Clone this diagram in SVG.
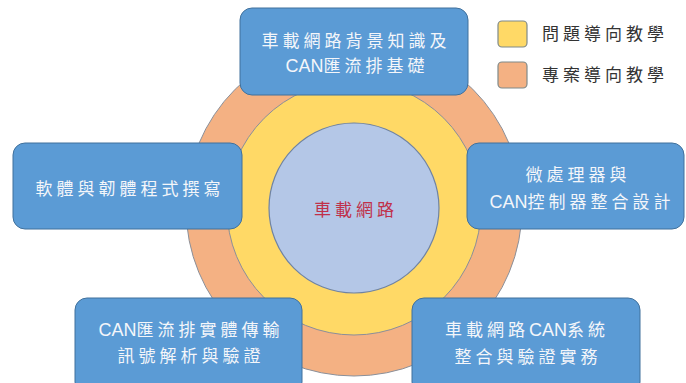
<svg xmlns="http://www.w3.org/2000/svg" width="686" height="383" viewBox="0 0 686 383">
<style>
.box{fill:#5B9BD5;stroke:#41719C;stroke-width:1}
.bt{fill:#F4F6FA;font-family:"Noto Sans CJK TC","Noto Sans CJK SC",sans-serif;font-size:17px;letter-spacing:4px;text-anchor:middle}
.lat{font-family:"Liberation Sans Narrow","Liberation Sans",sans-serif;font-size:18px;letter-spacing:0}
.lg{fill:#333;font-family:"Noto Sans CJK TC","Noto Sans CJK SC",sans-serif;font-size:17px;letter-spacing:4px}
</style>
<rect width="686" height="383" fill="#ffffff"/>
<g id="rings">
<circle cx="354" cy="208" r="168" fill="#F4B183" stroke="#8A8F99" stroke-width="1"/>
<circle cx="354" cy="208" r="127" fill="#FFD966" stroke="#8A8F99" stroke-width="1"/>
</g>
<g id="center">
<circle cx="354" cy="208" r="85" fill="#B4C7E7" stroke="#6F83A3" stroke-width="1.2"/>
<text x="356" y="216" style="fill:#C0304A;font-family:'Noto Sans CJK TC','Noto Sans CJK SC',sans-serif;font-size:17px;letter-spacing:4px;text-anchor:middle">車載網路</text>
</g>
<g id="legend">
<rect x="498" y="21" width="29" height="26" rx="4" fill="#FFD966" stroke="#7F8A8A" stroke-width="1.2"/>
<text class="lg" x="542" y="40">問題導向教學</text>
<rect x="498" y="62" width="29" height="26" rx="4" fill="#F4B183" stroke="#7F8A8A" stroke-width="1.2"/>
<text class="lg" x="542" y="81">專案導向教學</text>
</g>
<g id="connectors"></g>
<g id="top">
<rect class="box" x="240" y="8" width="228" height="87" rx="12"/>
<text class="bt" x="356" y="47">車載網路背景知識及</text>
<text class="bt" x="357" y="72"><tspan class="lat">CAN</tspan>匯流排基礎</text>
</g>
<g id="left">
<rect class="box" x="13" y="143" width="229" height="86" rx="12"/>
<text class="bt" x="130" y="195">軟體與韌體程式撰寫</text>
</g>
<g id="right">
<rect class="box" x="467" y="143" width="217" height="86" rx="12"/>
<text class="bt" x="578" y="181">微處理器與</text>
<text class="bt" x="582" y="208"><tspan class="lat">CAN</tspan>控制器整合設計</text>
</g>
<g id="bottomleft">
<rect class="box" x="75" y="298" width="227" height="96" rx="12"/>
<text class="bt" x="191" y="336"><tspan class="lat">CAN</tspan>匯流排實體傳輸</text>
<text class="bt" x="191" y="362">訊號解析與驗證</text>
</g>
<g id="bottomright">
<rect class="box" x="412" y="298" width="228" height="96" rx="12"/>
<text class="bt" x="527" y="336">車載網路<tspan class="lat">CAN</tspan>系統</text>
<text class="bt" x="528" y="363">整合與驗證實務</text>
</g>
</svg>
